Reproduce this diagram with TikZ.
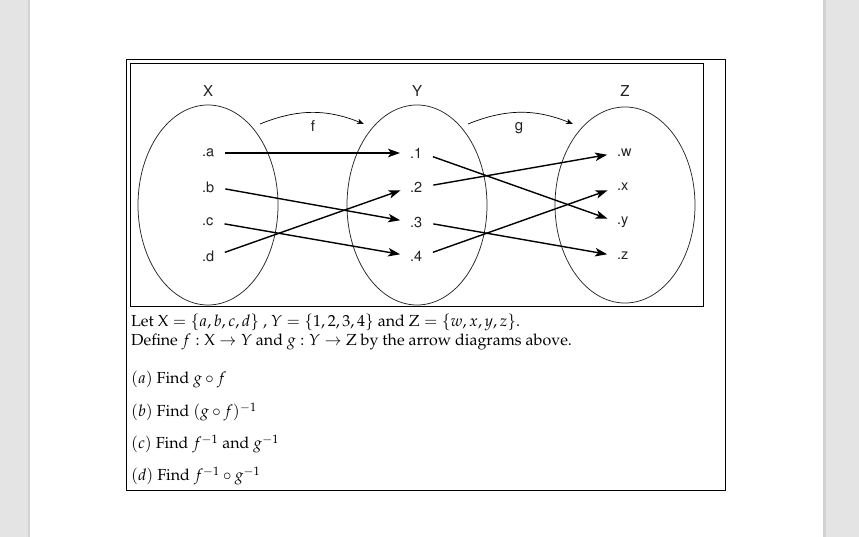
\documentclass[tikz,border=0pt]{standalone}
\usepackage[T1]{fontenc}
\usepackage{mathpazo}
\usepackage{helvet}
\usetikzlibrary{arrows.meta}
\definecolor{barg}{HTML}{E4E4E4}
\definecolor{bare}{HTML}{D2D2D2}
\definecolor{lblc}{HTML}{222222}
\begin{document}
\begin{tikzpicture}[x=1pt,y=-1pt,
  lbl/.style={font=\fontsize{14.5}{16}\sffamily, text=lblc, inner sep=0pt, anchor=west},
  setname/.style={font=\fontsize{15}{16}\sffamily, text=lblc, inner sep=0pt},
  setell/.style={line width=0.75pt, draw=black!85},
  maparrow/.style={-{Stealth[length=12pt,width=8.5pt,inset=3pt]}, line width=1.4pt, shorten <=11pt, shorten >=10pt},
  bendarrow/.style={-{Stealth[length=7pt,width=5.5pt,inset=2pt]}, line width=0.7pt},
  txt/.style={font=\fontsize{16}{19}\selectfont, inner sep=0pt, anchor=west},
  frame/.style={line width=0.9pt}]
\useasboundingbox (0,0) rectangle (859,537);
% page background bars
\fill[barg] (0,0) rectangle (30,537);
\fill[bare] (27.5,0) rectangle (30,537);
\fill[barg] (823,0) rectangle (859,537);
\fill[bare] (823,0) rectangle (825.5,537);
% frames
\draw[frame] (126,59.5) rectangle (725.5,490);
\draw[frame] (130,63.5) rectangle (703,306);
% set names
\node[setname] (X) at (208,91) {X};
\node[setname] (Y) at (417,91) {Y};
\node[setname] (Z) at (625,91) {Z};
% ellipses
\draw[setell] (208,205) ellipse [x radius=70, y radius=100];
\draw[setell] (417,205) ellipse [x radius=70, y radius=100];
\draw[setell] (625,205) ellipse [x radius=70, y radius=98];
% elements
\node[lbl] (a) at (202,153) {.a};
\node[lbl] (b) at (202,187) {.b};
\node[lbl] (c) at (202,222) {.c};
\node[lbl] (d) at (202,256) {.d};
\node[lbl] (n1) at (410,153) {.1};
\node[lbl] (n2) at (410,187) {.2};
\node[lbl] (n3) at (410,222) {.3};
\node[lbl] (n4) at (410,256) {.4};
\node[lbl] (w) at (617,153) {.w};
\node[lbl] (x) at (617,187) {.x};
\node[lbl] (y) at (617,222) {.y};
\node[lbl] (z) at (617,256) {.z};
% f arrows
\draw[maparrow] (a.east) -- (n1.west);
\draw[maparrow] (b.east) -- (n3.west);
\draw[maparrow] (c.east) -- (n4.west);
\draw[maparrow] (d.east) -- (n2.west);
% g arrows
\draw[maparrow] (n1.east) -- (y.west);
\draw[maparrow] (n2.east) -- (w.west);
\draw[maparrow] (n3.east) -- (z.west);
\draw[maparrow] (n4.east) -- (x.west);
% bent arrows
\coordinate (fs) at (260,124);
\coordinate (fe) at (364,124);
\draw[bendarrow] (fs) to[bend left=22] (fe);
\node[setname] (flab) at (313,126) {f};
\coordinate (gs) at (468,124);
\coordinate (ge) at (573,124);
\draw[bendarrow] (gs) to[bend left=22] (ge);
\node[setname] (glab) at (519,128) {g};
% text
\node[txt] (t1) at (131,322) {Let $\mathrm{X}=\{a,b,c,d\}$ , $Y=\{1,2,3,4\}$ and $\mathrm{Z}=\{w,x,y,z\}$.};
\node[txt] (t2) at (131,342) {Define $f:\mathrm{X}\to Y$ and $g:Y\to\mathrm{Z}$ by the arrow diagrams above.};
\node[txt] (t3) at (131,379) {$(a)$ Find $g\circ f$};
\node[txt] (t4) at (131,412) {$(b)$ Find $(g\circ f)^{-1}$};
\node[txt] (t5) at (131,444) {$(c)$ Find $f^{-1}$ and $g^{-1}$};
\node[txt] (t6) at (131,476) {$(d)$ Find $f^{-1}\circ g^{-1}$};
\end{tikzpicture}
\end{document}
